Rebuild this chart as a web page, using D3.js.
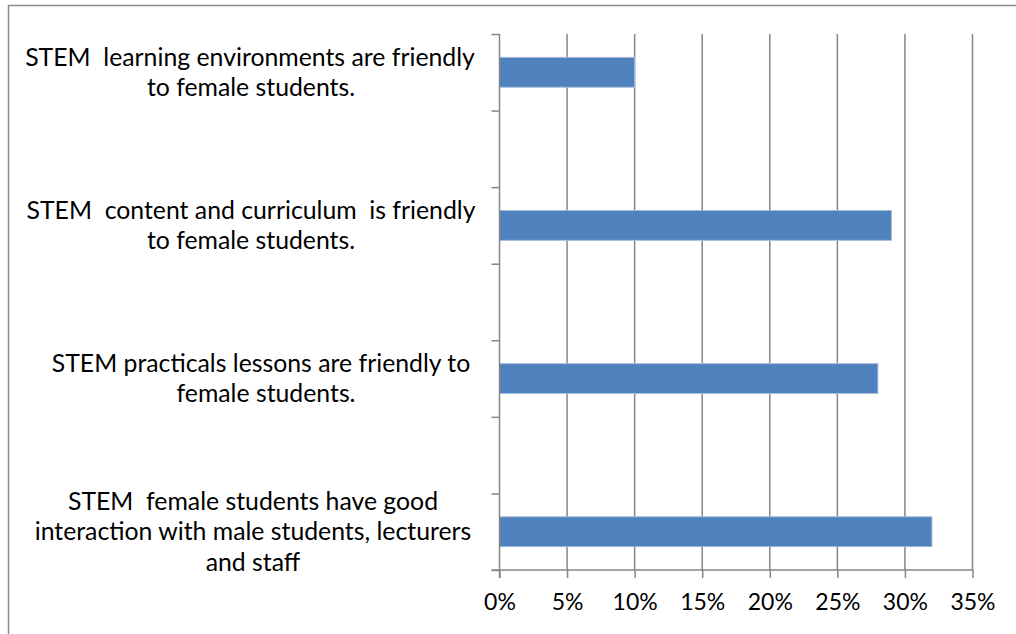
<!DOCTYPE html>
<html>
<head>
<meta charset="utf-8">
<script src="https://cdn.jsdelivr.net/npm/d3@7"></script>
<style>
  body { margin: 0; background: #fff; }
  svg { display: block; }
  text { font-family: Lato, "Open Sans", sans-serif; fill: #000; white-space: pre; }
</style>
</head>
<body>
<svg id="chart" width="1016" height="634"></svg>
<script>
// ---- data (top to bottom) ----
const categories = [
  ["STEM  learning environments are friendly", "to female students."],
  ["STEM  content and curriculum  is friendly", "to female students."],
  ["STEM practicals lessons are friendly to", "female students."],
  ["STEM  female students have good", "interaction with male students, lecturers", "and staff"]
];
const values = [0.10, 0.29, 0.28, 0.32];
const xTicks = [0, 0.05, 0.10, 0.15, 0.20, 0.25, 0.30, 0.35];

// ---- layout ----
const plot = { left: 499.5, right: 972.5, top: 34, bottom: 570 };
const slotCount = 7;              // categories sit on every other slot
const labelLineCenters = [[250, 251], [251, 251], [261, 266], [253, 253, 253]];
const lineHeight = 30.5;
const axisColor = "#868686";
const barColor = "#4F81BD";

const svg = d3.select("#chart");

// outer chart frame
svg.append("rect")
  .attr("x", 8.5).attr("y", 5.5).attr("width", 1100).attr("height", 700)
  .attr("fill", "none").attr("stroke", "#8c8c8c").attr("stroke-width", 1.5);

const x = d3.scaleLinear().domain([0, 0.35]).range([plot.left, plot.right]);
const yTick = d3.scaleLinear().domain([0, slotCount]).range([plot.top, plot.bottom]);
const ySlot = d3.scaleBand().domain(d3.range(slotCount)).range([plot.top, plot.bottom]);
const slotOf = i => i * 2;
const barH = ySlot.bandwidth() * 0.39;

// vertical gridlines
svg.append("g").selectAll("line")
  .data(xTicks.slice(1))
  .join("line")
  .attr("x1", d => x(d)).attr("x2", d => x(d))
  .attr("y1", plot.top).attr("y2", plot.bottom)
  .attr("stroke", axisColor).attr("stroke-width", 1.5);

// bars
svg.append("g").selectAll("rect")
  .data(values)
  .join("rect")
  .attr("x", x(0))
  .attr("y", (d, i) => ySlot(slotOf(i)) + ySlot.bandwidth() / 2 - barH / 2)
  .attr("width", d => x(d) - x(0))
  .attr("height", barH)
  .attr("fill", barColor)
  .attr("stroke", "#a7bddc").attr("stroke-width", 1);

// x axis
const xAxis = svg.append("g")
  .attr("transform", `translate(0,${plot.bottom})`)
  .call(d3.axisBottom(x).tickValues(xTicks).tickFormat(d3.format(".0%")).tickSize(8).tickPadding(16).tickSizeOuter(0));
xAxis.select(".domain").attr("stroke", axisColor).attr("stroke-width", 1.5)
  .attr("d", `M${plot.left - 8},0H${plot.right}`);
xAxis.selectAll(".tick line").attr("stroke", axisColor).attr("stroke-width", 1.5);
xAxis.selectAll(".tick text")
  .attr("font-size", 23).attr("font-family", "Lato, 'Open Sans', sans-serif").attr("fill", "#000");

// y axis (slot boundaries)
const yAxis = svg.append("g")
  .attr("transform", `translate(${plot.left},0)`)
  .call(d3.axisLeft(yTick).tickValues(d3.range(slotCount + 1)).tickFormat("").tickSize(8).tickSizeOuter(0));
yAxis.select(".domain").attr("stroke", axisColor).attr("stroke-width", 1.5)
  .attr("d", `M0,${plot.top}V${plot.bottom + 8}`);
yAxis.selectAll(".tick line").attr("stroke", axisColor).attr("stroke-width", 1.5);

// category labels
const labels = svg.append("g");
categories.forEach((lines, i) => {
  const cy = ySlot(slotOf(i)) + ySlot.bandwidth() / 2;
  lines.forEach((t, j) => {
    labels.append("text")
      .attr("x", labelLineCenters[i][j])
      .attr("y", cy + (j - (lines.length - 1) / 2) * lineHeight + 8.5)
      .attr("text-anchor", "middle")
      .attr("font-size", 24.8)
      .text(t);
  });
});
</script>
</body>
</html>
